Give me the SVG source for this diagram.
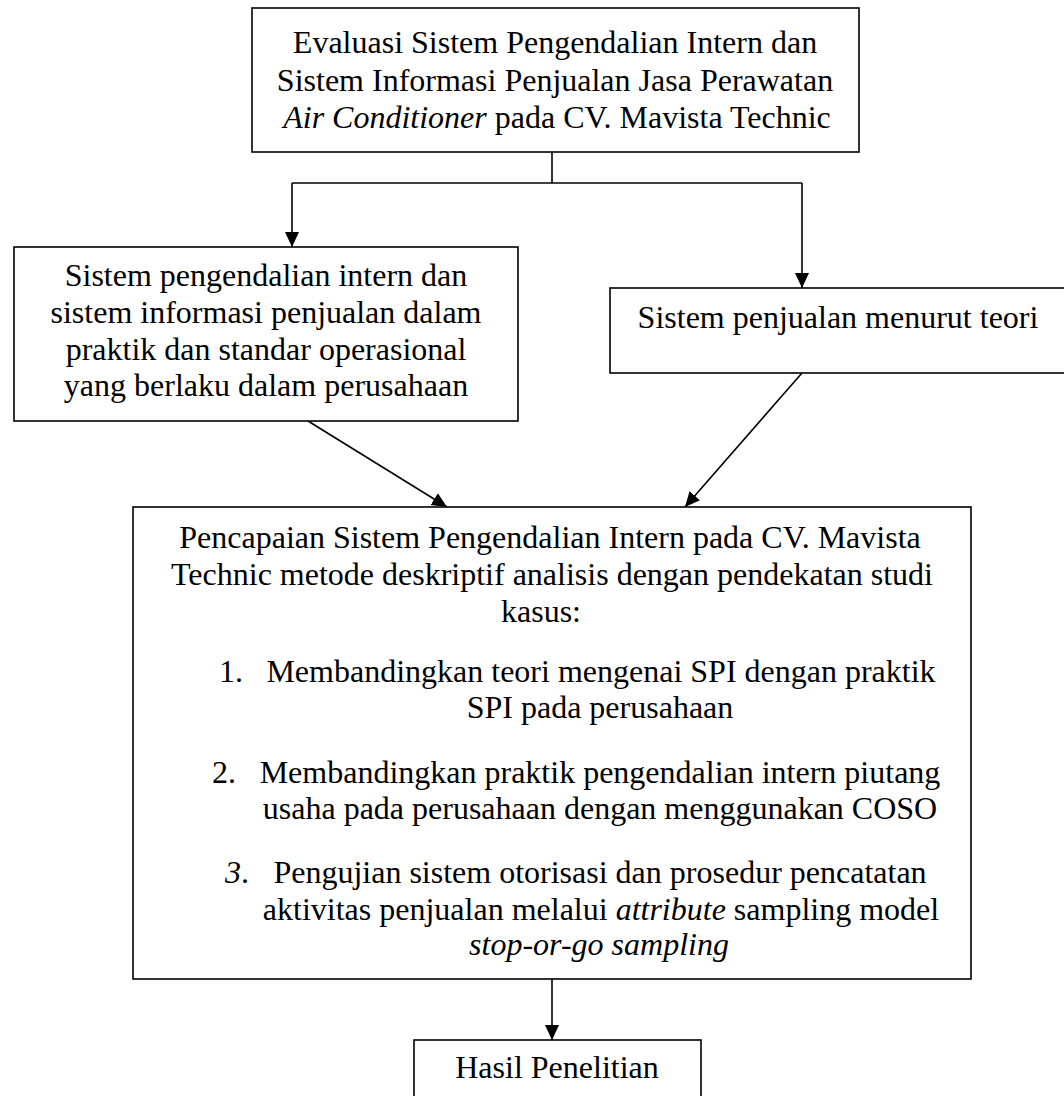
<svg xmlns="http://www.w3.org/2000/svg" width="1064" height="1096" viewBox="0 0 1064 1096">
<defs>
<style>
.box{fill:#fff;stroke:#000;stroke-width:1.6}
.ln{fill:none;stroke:#000;stroke-width:1.6}
text{font-family:"Liberation Serif","Times New Roman",serif;font-size:32px;fill:#000}
.c{text-anchor:middle}
.i{font-style:italic}
</style>
<marker id="ah" markerUnits="userSpaceOnUse" markerWidth="16" markerHeight="16" refX="15" refY="7" orient="auto" viewBox="0 0 16 14">
<path d="M0,0 L15,7 L0,14 z" fill="#000"/>
</marker>
</defs>
<rect width="1064" height="1096" fill="#fff"/>

<g id="connectors">
<polyline class="ln" points="552,152 552,183"/>
<polyline class="ln" points="802,183 292,183"/>
<line class="ln" x1="292" y1="183" x2="292" y2="247" marker-end="url(#ah)"/>
<line class="ln" x1="802" y1="183" x2="802" y2="288" marker-end="url(#ah)"/>
<line class="ln" x1="308" y1="421" x2="447" y2="507" marker-end="url(#ah)"/>
<line class="ln" x1="802" y1="373" x2="685" y2="507" marker-end="url(#ah)"/>
<line class="ln" x1="552" y1="979" x2="552" y2="1040" marker-end="url(#ah)"/>
</g>

<g id="node-evaluasi">
<rect class="box" x="252" y="8" width="607" height="144"/>
<text class="c" x="555" y="53">Evaluasi Sistem Pengendalian Intern dan</text>
<text class="c" x="555" y="91">Sistem Informasi Penjualan Jasa Perawatan</text>
<text class="c" x="557" y="128"><tspan class="i">Air Conditioner</tspan> pada CV. Mavista Technic</text>
</g>

<g id="node-praktik">
<rect class="box" x="14" y="247" width="504" height="174"/>
<text class="c" x="266" y="286">Sistem pengendalian intern dan</text>
<text class="c" x="266" y="323">sistem informasi penjualan dalam</text>
<text class="c" x="266" y="360">praktik dan standar operasional</text>
<text class="c" x="266" y="396">yang berlaku dalam perusahaan</text>
</g>

<g id="node-teori">
<rect class="box" x="610" y="288" width="460" height="85"/>
<text class="c" x="838" y="328">Sistem penjualan menurut teori</text>
</g>

<g id="node-pencapaian">
<rect class="box" x="133" y="507" width="838" height="472"/>
<text class="c" x="550" y="548">Pencapaian Sistem Pengendalian Intern pada CV. Mavista</text>
<text class="c" x="552" y="585">Technic metode deskriptif analisis dengan pendekatan studi</text>
<text class="c" x="541" y="622">kasus:</text>
<text x="219" y="682">1.</text>
<text class="c" x="601" y="682">Membandingkan teori mengenai SPI dengan praktik</text>
<text class="c" x="600" y="718">SPI pada perusahaan</text>
<text x="212" y="783">2.</text>
<text class="c" x="600" y="783">Membandingkan praktik pengendalian intern piutang</text>
<text class="c" x="600" y="819">usaha pada perusahaan dengan menggunakan COSO</text>
<text x="225" y="883"><tspan class="i">3</tspan>.</text>
<text class="c" x="600" y="883">Pengujian sistem otorisasi dan prosedur pencatatan</text>
<text class="c" x="601" y="920">aktivitas penjualan melalui <tspan class="i">attribute</tspan> sampling model</text>
<text class="c i" x="599" y="955">stop-or-go sampling</text>
</g>

<g id="node-hasil">
<rect class="box" x="414" y="1040" width="287" height="70"/>
<text class="c" x="557" y="1078">Hasil Penelitian</text>
</g>
</svg>
